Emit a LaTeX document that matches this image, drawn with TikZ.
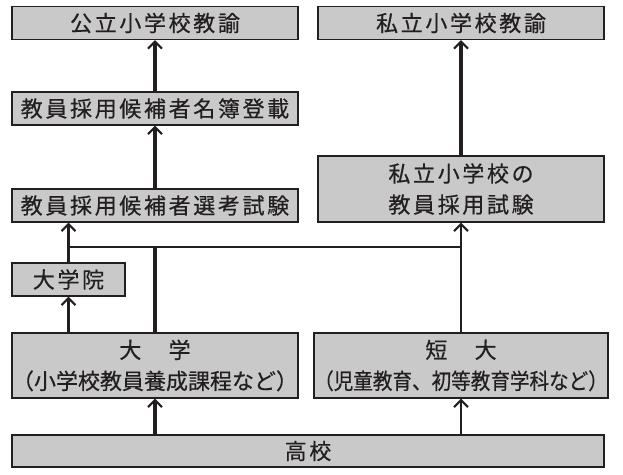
\documentclass[tikz,border=0pt]{standalone}
\usepackage{fontspec}
\usepackage{graphicx}
\usepackage{xcolor}
\usetikzlibrary{calc}
\usetikzlibrary{arrows.meta}

\newfontfamily\jpfont[LetterSpace=12, FakeBold=0.5]{Noto Sans CJK JP}
\newfontfamily\jpnarrow[FakeBold=0.5]{Noto Sans CJK JP}
\definecolor{ink}{HTML}{231F20}
\definecolor{boxfill}{HTML}{C9C9C9}

\begin{document}
\begin{tikzpicture}[x=1pt,y=-1pt]

\tikzset{
    box/.style = {
    draw=ink, line width=1.4pt, fill=boxfill, text=ink,
    inner sep=0pt, align=center,
    font=\jpfont\fontsize{22pt}{31pt}\selectfont
    }
}

\tikzstyle{wide}=[box, minimum width=286pt, minimum height=33pt]
\tikzstyle{tall}=[box, minimum width=286pt, minimum height=65pt]
\tikzstyle{fatline}=[draw=ink, line width=3.2pt]
\tikzstyle{thinline}=[draw=ink, line width=2.2pt]
\tikzstyle{up}=[-{Straight Barb[length=7pt,width=14pt,line width=2pt]}]

\useasboundingbox (0,0) rectangle (623,474);

\node (pub)      [wide] at (155,23)    {公立小学校教諭};
\node (priv)     [wide] at (461,23)    {私立小学校教諭};
\node (meibo)    [wide] at (155,108.5) {教員採用候補者名簿登載};
\node (senko)    [wide] at (155,205.5) {教員採用候補者選考試験};
\node (privexam) [box, minimum width=286pt, minimum height=66pt] at (461,189) {私立小学校の\\教員採用試験};
\node (grad)     [box, minimum width=113pt, minimum height=33pt] at (68.5,279.5) {大学院};
\node (univ)     [tall] at (155,365.5) {大　学\\{\jpnarrow（小学校教員養成課程など）}};
\node (junior)   [tall] at (461,365.5) {短　大\\{\jpnarrow\scalebox{0.89}[1]{（児童教育、初等教育学科など）}}};
\node (hs)       [box, minimum width=592pt, minimum height=32pt] at (308,451) {高校};

\coordinate (jL) at (68.5,247);
\coordinate (jR) at (461,247);

% public route
\draw[fatline, up] (meibo) -- (pub);
\draw[fatline, up] (senko) -- (meibo);
\draw[fatline, up] (privexam) -- (priv);

% junction line
\draw[thinline] (jL) -- (jR);
\draw[thinline, up] (jL) -- (jL |- senko.south);
\draw[thinline, up] (jR) -- (privexam.south);
\draw[thinline] (grad.north) -- (jL);
\draw[thinline] (junior.north) -- (jR);
\draw[fatline] (univ.north) -- (univ.north |- jL);
\draw[thinline, up] (univ.north -| grad) -- (grad.south);

% from high school
\draw[fatline, up] (hs.north -| univ) -- (univ.south);
\draw[thinline, up] (hs.north -| junior) -- (junior.south);

\end{tikzpicture}
\end{document}
